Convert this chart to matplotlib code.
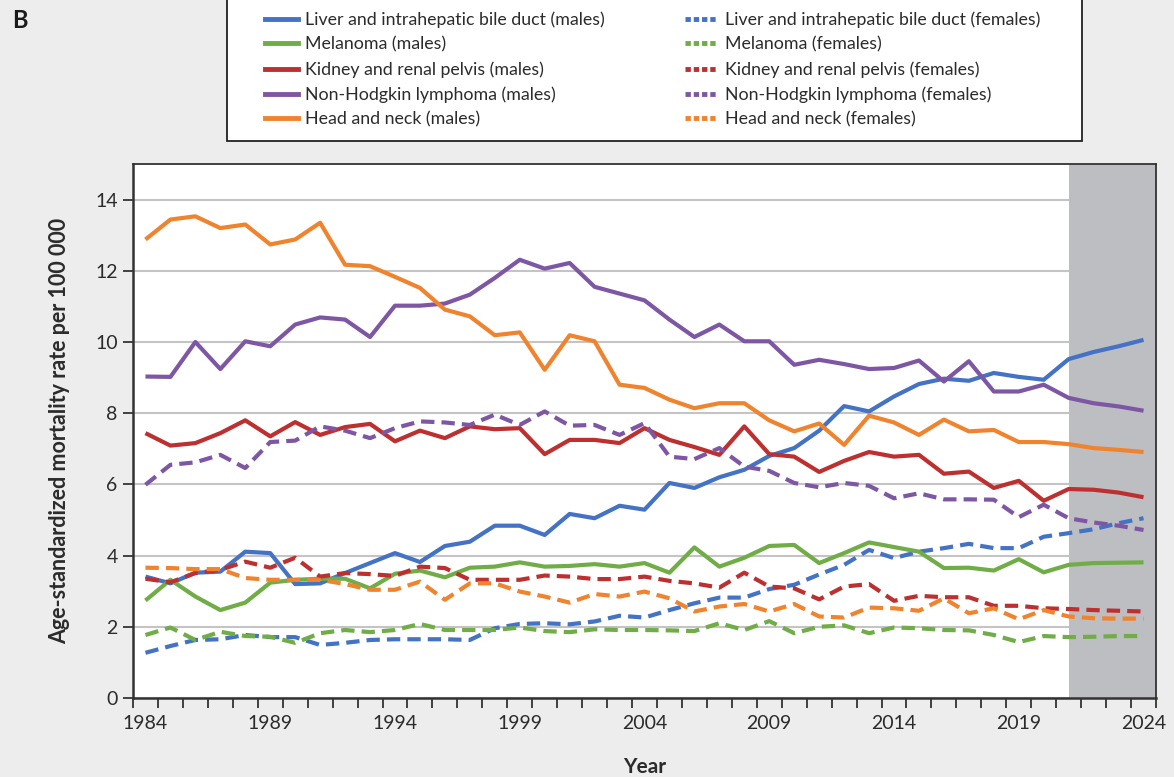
import matplotlib
matplotlib.use("Agg")
import matplotlib.pyplot as plt
from matplotlib.lines import Line2D
from matplotlib.patches import Rectangle
import numpy as np

plt.rcParams['font.family'] = ['Lato', 'DejaVu Sans']

years = list(range(1984, 2025))

liver_m = [3.41, 3.22, 3.52, 3.55, 4.11, 4.07, 3.20, 3.22, 3.51, 3.79,
           4.07, 3.82, 4.27, 4.39, 4.84, 4.84, 4.58, 5.17, 5.05, 5.40,
           5.29, 6.04, 5.90, 6.20, 6.41, 6.80, 7.02, 7.51, 8.20, 8.05,
           8.47, 8.82, 8.97, 8.91, 9.13, 9.02, 8.94, 9.52, 9.72, 9.88, 10.06]
melanoma_m = [2.74, 3.32, 2.85, 2.47, 2.68, 3.24, 3.32, 3.35, 3.35, 3.08,
              3.49, 3.58, 3.39, 3.66, 3.69, 3.81, 3.69, 3.71, 3.76, 3.69,
              3.79, 3.52, 4.23, 3.69, 3.94, 4.27, 4.30, 3.79, 4.07, 4.37,
              4.24, 4.11, 3.65, 3.66, 3.58, 3.90, 3.53, 3.74, 3.79, 3.80, 3.81]
kidney_m = [7.44, 7.09, 7.16, 7.44, 7.80, 7.35, 7.75, 7.39, 7.61, 7.70,
            7.21, 7.51, 7.30, 7.63, 7.55, 7.58, 6.85, 7.25, 7.25, 7.16,
            7.58, 7.25, 7.05, 6.83, 7.63, 6.85, 6.78, 6.35, 6.66, 6.91,
            6.78, 6.83, 6.30, 6.36, 5.90, 6.10, 5.54, 5.87, 5.85, 5.77, 5.64]
nhl_m = [9.03, 9.02, 10.00, 9.24, 10.02, 9.88, 10.49, 10.69, 10.63, 10.14,
         11.02, 11.02, 11.08, 11.33, 11.80, 12.31, 12.06, 12.22, 11.55, 11.36,
         11.17, 10.63, 10.14, 10.49, 10.02, 10.02, 9.36, 9.50, 9.38, 9.24,
         9.27, 9.48, 8.89, 9.46, 8.61, 8.61, 8.80, 8.43, 8.28, 8.19, 8.07]
headneck_m = [12.88, 13.44, 13.53, 13.20, 13.30, 12.74, 12.88, 13.35, 12.17, 12.13,
              11.83, 11.52, 10.91, 10.72, 10.19, 10.27, 9.22, 10.19, 10.02, 8.80,
              8.71, 8.38, 8.14, 8.28, 8.28, 7.80, 7.49, 7.71, 7.11, 7.93,
              7.74, 7.39, 7.82, 7.49, 7.53, 7.19, 7.19, 7.13, 7.02, 6.97, 6.91]

liver_f = [1.27, 1.46, 1.63, 1.65, 1.77, 1.71, 1.71, 1.49, 1.55, 1.63,
           1.65, 1.65, 1.65, 1.63, 1.96, 2.08, 2.10, 2.07, 2.15, 2.31,
           2.26, 2.47, 2.66, 2.82, 2.82, 3.06, 3.18, 3.47, 3.74, 4.16,
           3.93, 4.11, 4.21, 4.33, 4.21, 4.21, 4.53, 4.63, 4.74, 4.91, 5.05]
melanoma_f = [1.77, 1.98, 1.63, 1.86, 1.74, 1.72, 1.55, 1.82, 1.91, 1.85,
              1.91, 2.08, 1.91, 1.91, 1.91, 1.98, 1.88, 1.85, 1.93, 1.91,
              1.91, 1.90, 1.88, 2.10, 1.91, 2.16, 1.82, 2.00, 2.04, 1.82,
              1.98, 1.96, 1.91, 1.90, 1.77, 1.57, 1.74, 1.71, 1.72, 1.74, 1.74]
kidney_f = [3.35, 3.25, 3.51, 3.60, 3.83, 3.66, 3.94, 3.41, 3.51, 3.48,
            3.43, 3.69, 3.65, 3.32, 3.32, 3.32, 3.44, 3.41, 3.34, 3.34,
            3.41, 3.29, 3.22, 3.10, 3.52, 3.13, 3.08, 2.77, 3.13, 3.20,
            2.73, 2.87, 2.83, 2.83, 2.59, 2.59, 2.52, 2.50, 2.47, 2.45, 2.43]
nhl_f = [5.99, 6.55, 6.62, 6.83, 6.46, 7.19, 7.23, 7.63, 7.51, 7.30,
         7.58, 7.77, 7.74, 7.67, 7.96, 7.67, 8.05, 7.65, 7.67, 7.39,
         7.72, 6.78, 6.71, 7.02, 6.50, 6.38, 6.04, 5.92, 6.04, 5.96,
         5.61, 5.75, 5.58, 5.58, 5.57, 5.08, 5.43, 5.05, 4.93, 4.84, 4.72]
headneck_f = [3.66, 3.65, 3.62, 3.62, 3.37, 3.32, 3.32, 3.32, 3.20, 3.04,
              3.04, 3.27, 2.76, 3.22, 3.22, 2.99, 2.85, 2.68, 2.92, 2.85,
              2.99, 2.80, 2.43, 2.57, 2.64, 2.43, 2.64, 2.29, 2.26, 2.54,
              2.52, 2.45, 2.80, 2.38, 2.52, 2.21, 2.47, 2.29, 2.24, 2.23, 2.23]

cancers = ['Liver and intrahepatic bile duct', 'Melanoma', 'Kidney and renal pelvis',
           'Non-Hodgkin lymphoma', 'Head and neck']
colors = ['#4472C4', '#70AD47', '#BE2F2F', '#7E57A4', '#F0832E']
males = [liver_m, melanoma_m, kidney_m, nhl_m, headneck_m]
females = [liver_f, melanoma_f, kidney_f, nhl_f, headneck_f]

fig = plt.figure(figsize=(11.74, 7.77), dpi=100, facecolor='#ededed')
ax = fig.add_axes([133 / 1174, 1 - 698 / 777, (1156 - 133) / 1174, (698 - 164) / 777])
ax.set_facecolor('white')

# projection period
ax.axvspan(2021, 2024.5, color='#bdbec2', zorder=1, lw=0)

for c, m, f in zip(colors, males, females):
    ax.plot(years, m, color=c, lw=3, zorder=3, solid_capstyle='butt')
    ax.plot(years, f, color=c, lw=3, zorder=3, linestyle=(0, (3.2, 1.7)), dash_capstyle='butt')

ax.set_xlim(1983.5, 2024.5)
ax.set_ylim(0, 15)
ax.set_yticks(range(0, 15, 2))
ax.yaxis.grid(True, color='#c4c4c4', lw=1.5, zorder=0)
ax.set_axisbelow(True)

ax.set_xticks(range(1984, 2025, 5))
ax.set_xticks(np.arange(1983.5, 2025, 1), minor=True)
ax.tick_params(axis='x', which='major', length=0, pad=12, labelsize=14, labelcolor='#2b2b2b')
ax.tick_params(axis='x', which='minor', length=7, width=1.3, color='#333333', direction='out')
ax.tick_params(axis='y', length=7, width=1.3, color='#333333', labelsize=14, labelcolor='#2b2b2b', pad=4)

for s in ['left', 'bottom']:
    ax.spines[s].set_color('#333333')
    ax.spines[s].set_linewidth(1.8)
for s in ['top', 'right']:
    ax.spines[s].set_color('#333333')
    ax.spines[s].set_linewidth(1.3)

ax.set_ylabel('Age-standardized mortality rate per 100 000', fontsize=15.5,
              fontweight='bold', color='#2b2b2b', labelpad=18)
ax.set_xlabel('Year', fontsize=15, fontweight='bold', color='#2b2b2b', labelpad=18)

fig.text(12 / 1174, 1 - 20 / 777, 'B', fontsize=17, fontweight='bold', va='center',
         color='#1a1a1a')

# legend box
fig.patches.append(Rectangle((227 / 1174, 1 - 141 / 777), (1082 - 227) / 1174, 0.3,
                             transform=fig.transFigure, facecolor='white',
                             edgecolor='#222222', lw=1.3, zorder=0))

male_handles = [Line2D([], [], color=c, lw=3.5) for c in colors]
female_handles = [Line2D([], [], color=c, lw=3.5, linestyle=(0, (1.1, 0.6))) for c in colors]
male_labels = [n + ' (males)' for n in cancers]
female_labels = [n + ' (females)' for n in cancers]

leg_kw = dict(frameon=False, fontsize=12.8, handlelength=1.85, handletextpad=0.42,
              labelspacing=0.48, borderpad=0, borderaxespad=0, loc='upper left')
leg1 = fig.legend(male_handles, male_labels, bbox_to_anchor=(265 / 1174, 1 - 11.5 / 777), **leg_kw)
leg2 = fig.legend(female_handles, female_labels, bbox_to_anchor=(685 / 1174, 1 - 11.5 / 777), **leg_kw)
for leg in (leg1, leg2):
    for t in leg.get_texts():
        t.set_color('#2b2b2b')

fig.savefig('out.png', dpi=100, facecolor=fig.get_facecolor())
